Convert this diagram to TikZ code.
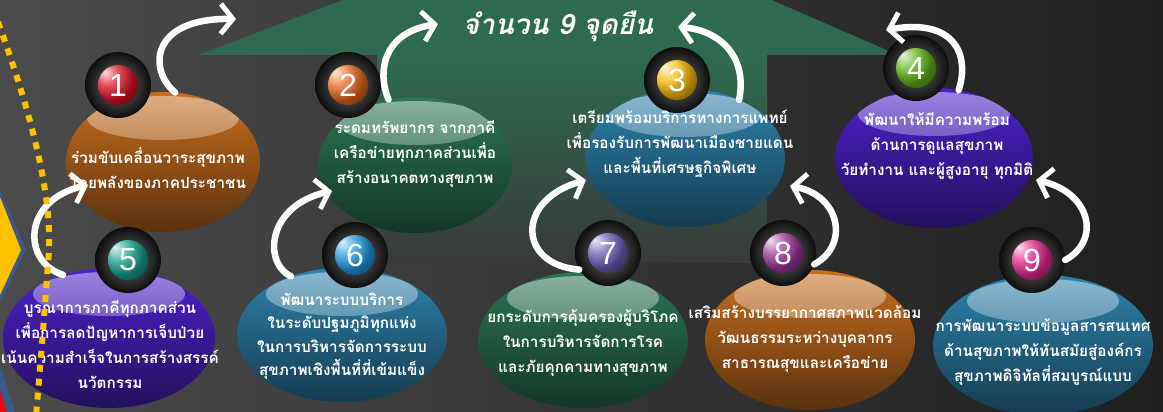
\documentclass[tikz,border=0pt]{standalone}
\usepackage{fontspec}
\newfontfamily\thaifont[Script=Thai]{Loma}
\newfontfamily\numfont{Liberation Sans}
\usetikzlibrary{shapes.geometric,arrows.meta}

\definecolor{bgleft}{HTML}{4B4B4B}
\definecolor{bgright}{HTML}{1F1F1F}
\definecolor{arrowgreen}{HTML}{2E6A50}
\definecolor{shaftend}{HTML}{383A39}
\definecolor{dotyellow}{HTML}{FFC000}
\definecolor{edgeblue}{HTML}{3A5A8C}
\definecolor{cornerred}{HTML}{E01010}
% bubble colours
\definecolor{orangeB}{HTML}{C86E1E}
\definecolor{greenB}{HTML}{2C7654}
\definecolor{blueB}{HTML}{2E84AE}
\definecolor{purpleB}{HTML}{4C22CC}
% badge colours
\definecolor{redN}{HTML}{D81020}
\definecolor{orangeN}{HTML}{E6661A}
\definecolor{yellowN}{HTML}{F4B705}
\definecolor{greenN}{HTML}{5DB014}
\definecolor{tealN}{HTML}{14A08E}
\definecolor{blueN}{HTML}{1E96DC}
\definecolor{purpleN}{HTML}{6A5AB4}
\definecolor{magentaN}{HTML}{9E3698}
\definecolor{pinkN}{HTML}{E4268E}

\tikzset{
  bubble/.style={ellipse, inner sep=0pt, outer sep=0pt,
    minimum width=200pt, minimum height=138pt,
    top color=#1, bottom color=#1!45!black,
    path picture={\shade[top color=white, bottom color=#1, opacity=0.45]
      ([yshift=-26pt]path picture bounding box.north) ellipse [x radius=76pt, y radius=22pt];}},
  badge/.style={circle, inner sep=0pt, minimum size=66pt,
    inner color=black!55, outer color=black!95, text=white,
    font=\numfont\fontsize{32}{32}\selectfont,
    path picture={\shade[ball color=#1] (path picture bounding box.center) circle (20pt);}},
  blurb/.style={text=white, align=center,
    font=\thaifont\bfseries\fontsize{15.3}{25}\selectfont},
  swoop/.style={draw=white, line width=6.5pt, line cap=round,
    -{Straight Barb[length=12pt,width=30pt,line width=5pt]}},
}

\begin{document}
\begin{tikzpicture}[x=1pt, y=-1pt]
    \useasboundingbox (0,0) rectangle (1163,412);
    \clip (0,0) rectangle (1163,412);
    \shade [left color=bgleft, right color=bgright] (0,0) rectangle (1163,412);

    % big green arrow behind everything
    \fill [arrowgreen] (572,-87) -- (898,55) -- (198,55) -- cycle;
    \shade [top color=arrowgreen, bottom color=shaftend] (377,55) rectangle (767,262);
    \node [text=white, font=\thaifont\bfseries\itshape\fontsize{28}{28}\selectfont] (title) at (558,26) {จำนวน 9 จุดยืน};

    % bubbles
    \node [bubble=orangeB, minimum width=194pt, minimum height=140pt] (e1) at (163,162) {};
    \node [bubble=greenB, minimum width=194pt, minimum height=136pt] (e2) at (415,165) {};
    \node [bubble=blueB] (e3) at (685,158) {};
    \node [bubble=purpleB, minimum width=198pt, minimum height=140pt] (e4) at (934,158) {};
    \node [bubble=purpleB, minimum width=212pt, minimum height=140pt] (e5) at (109,338) {};
    \node [bubble=blueB, minimum width=210pt, minimum height=134pt] (e6) at (342,335) {};
    \node [bubble=greenB, minimum width=210pt, minimum height=136pt] (e7) at (583,340) {};
    \node [bubble=orangeB, minimum width=210pt, minimum height=140pt] (e8) at (810,340) {};
    \node [bubble=blueB, minimum width=220pt, minimum height=140pt] (e9) at (1043,345) {};

    % number badges
    \node [badge=redN] (b1) at (118,85) {1};
    \node [badge=orangeN] (b2) at (348,85) {2};
    \node [badge=yellowN] (b3) at (677,80) {3};
    \node [badge=greenN] (b4) at (916,68) {4};
    \node [badge=tealN] (b5) at (128,260) {5};
    \node [badge=blueN] (b6) at (355,255) {6};
    \node [badge=purpleN] (b7) at (608,253) {7};
    \node [badge=magentaN] (b8) at (783,253) {8};
    \node [badge=pinkN] (b9) at (1032,260) {9};

    % texts
    \node [blurb] (t1) at (158,168) {ร่วมขับเคลื่อนวาระสุขภาพ\\โดยพลังของภาคประชาชน};
    \node [blurb] (t2) at (415,154) {ระดมทรัพยากร จากภาคี\\เครือข่ายทุกภาคส่วนเพื่อ\\สร้างอนาคตทางสุขภาพ};
    \node [blurb] (t3) at (680,144) {เตรียมพร้อมบริการทางการแพทย์\\เพื่อรองรับการพัฒนาเมืองชายแดน\\และพื้นที่เศรษฐกิจพิเศษ};
    \node [blurb] (t4) at (937,146) {พัฒนาให้มีความพร้อม\\ด้านการดูแลสุขภาพ\\วัยทำงาน และผู้สูงอายุ ทุกมิติ};
    \node [blurb] (t5) at (110,345) {บูรณาการภาคีทุกภาคส่วน\\เพื่อการลดปัญหาการเจ็บป่วย\\เน้นความสำเร็จในการสร้างสรรค์\\นวัตกรรม};
    \node [blurb, font=\thaifont\bfseries\fontsize{15.3}{23.5}\selectfont] (t6) at (342,336) {พัฒนาระบบบริการ\\ในระดับปฐมภูมิทุกแห่ง\\ในการบริหารจัดการระบบ\\สุขภาพเชิงพื้นที่ที่เข้มแข็ง};
    \node [blurb] (t7) at (583,343) {ยกระดับการคุ้มครองผู้บริโภค\\ในการบริหารจัดการโรค\\และภัยคุกคามทางสุขภาพ};
    \node [blurb] (t8) at (805,339) {เสริมสร้างบรรยากาศสภาพแวดล้อม\\วัฒนธรรมระหว่างบุคลากร\\สาธารณสุขและเครือข่าย};
    \node [blurb] (t9) at (1043,352) {การพัฒนาระบบข้อมูลสารสนเทศ\\ด้านสุขภาพให้ทันสมัยสู่องค์กร\\สุขภาพดิจิทัลที่สมบูรณ์แบบ};

    % white swoops
    \coordinate (tipA) at (236,19);
    \coordinate (tipB) at (438,24);
    \coordinate (tipC) at (678,27);
    \coordinate (tipD) at (886,30);
    \coordinate (tipE) at (88,185);
    \coordinate (tipF) at (332,191);
    \coordinate (tipG) at (586,180);
    \coordinate (tipH) at (790,186);
    \coordinate (tipI) at (1036,180);
    \draw [swoop] (e1.80) .. controls (148,70) and (150,18) .. (tipA);
    \draw [swoop] (e2.112) .. controls (376,70) and (385,32) .. (tipB);
    \draw [swoop] (e3.47) .. controls (748,55) and (718,30) .. (tipC);
    \draw [swoop] (e4.70) .. controls (970,55) and (955,18) .. (tipD);
    \draw [swoop] (e5.126) .. controls (22,262) and (22,200) .. (tipE);
    \draw [swoop] (e6.131) .. controls (262,262) and (268,205) .. (tipF);
    \draw [swoop] (b7.210) .. controls (518,265) and (515,200) .. (tipG);
    \draw [swoop] (b8.-20) .. controls (850,245) and (840,195) .. (tipH);
    \draw [swoop] (b9.east) .. controls (1102,240) and (1090,192) .. (tipI);

    % left edge decoration
    \fill [edgeblue] (0,190) -- (26,250) -- (0,302) -- cycle;
    \fill [dotyellow] (0,197) -- (21,250) -- (0,295) -- cycle;
    \fill [edgeblue] (0,366) -- (15,412) -- (0,412) -- cycle;
    \fill [cornerred] (0,390) -- (7,412) -- (0,412) -- cycle;
    \draw [dotyellow, line width=6pt, dash pattern=on 7pt off 7pt]
        (-2,22) .. controls (30,110) and (55,200) .. (48,263) .. controls (44,320) and (40,370) .. (36,416);
\end{tikzpicture}
\end{document}
